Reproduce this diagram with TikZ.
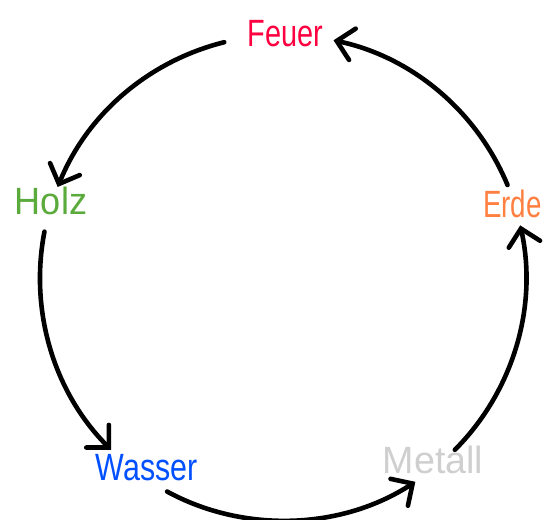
\documentclass[tikz,border=0pt]{standalone}
\usepackage{fontspec}
\setmainfont{Liberation Sans}
\usetikzlibrary{arrows.meta,calc}
\definecolor{feuerc}{HTML}{FF0040}
\definecolor{holzc}{HTML}{5AAA3C}
\definecolor{erdec}{HTML}{FF8040}
\definecolor{wasserc}{HTML}{0050FF}
\definecolor{metallc}{HTML}{CFCFCF}
\begin{document}
\begin{tikzpicture}[x=1pt,y=1pt,
  lbl/.style={anchor=base, inner sep=0pt, font=\fontsize{38}{40}\selectfont},
  arr/.style={line width=4.6pt, line cap=round, looseness=0.905,
    -{Straight Barb[length=16pt,width=32pt,line cap=round]}}]
\useasboundingbox (0,0) rectangle (545,519);
\coordinate (O) at (283,241);
% labels
\node[lbl, text=feuerc]  (feuer)  at (285.5,472) {\scalebox{0.76}[1]{Feuer}};
\node[lbl, text=holzc]   (holz)   at (51,304)    {\scalebox{0.95}[1]{Holz}};
\node[lbl, text=erdec]   (erde)   at (512.5,301) {\scalebox{0.73}[1]{Erde}};
\node[lbl, text=wasserc] (wasser) at (146.5,39)  {\scalebox{0.80}[1]{Wasser}};
\node[lbl, text=metallc] (metall) at (433,46)    {\scalebox{0.99}[1]{Metall}};
% arc end points on the circle
\coordinate (fh1) at ($(O)+(104:243pt)$);
\coordinate (fh2) at ($(O)+(158:243pt)$);
\coordinate (hw1) at ($(O)+(169:243pt)$);
\coordinate (hw2) at ($(O)+(225:243pt)$);
\coordinate (wm1) at ($(O)+(241.5:243pt)$);
\coordinate (wm2) at ($(O)+(303:243pt)$);
\coordinate (me1) at ($(O)+(315:243pt)$);
\coordinate (me2) at ($(O)+(372.5:243pt)$);
\coordinate (ef1) at ($(O)+(22.5:243pt)$);
\coordinate (ef2) at ($(O)+(78:243pt)$);
% connectors
\draw[arr] (fh1) to[bend right=27] (fh2);
\draw[arr] (hw1) to[bend right=28] (hw2);
\draw[arr] (wm1) to[bend right=30.75] (wm2);
\draw[arr] (me1) to[bend right=28.75] (me2);
\draw[arr] (ef1) to[bend right=27.75] (ef2);
\end{tikzpicture}
\end{document}
